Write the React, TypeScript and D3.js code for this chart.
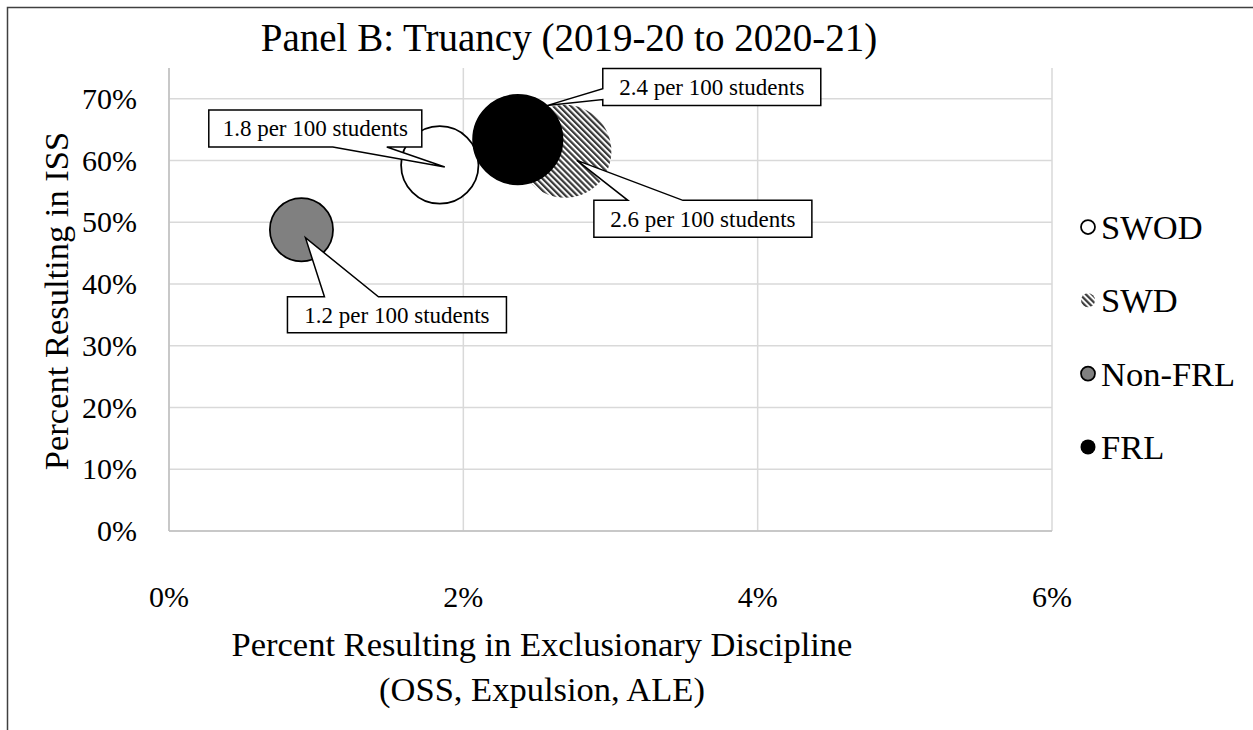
import React from "react";
import * as d3 from "d3";

// ---------- DATA ----------
const categories = ["SWOD", "SWD", "Non-FRL", "FRL"];
const pctExclusionary = [0.0184, 0.0269, 0.0090, 0.0237]; // x
const pctISS = [0.593, 0.615, 0.488, 0.634]; // y
const perHundred = [1.8, 2.6, 1.2, 2.4]; // bubble size
const calloutLabels = ["1.8 per 100 students", "2.6 per 100 students", "1.2 per 100 students", "2.4 per 100 students"];
const xTicks = [0, 0.02, 0.04, 0.06];
const yTicks = [0, 0.1, 0.2, 0.3, 0.4, 0.5, 0.6, 0.7];
const chartTitle = "Panel B: Truancy (2019-20 to 2020-21)";
const yTitle = "Percent Resulting in ISS";
const xTitleLines = ["Percent Resulting in Exclusionary Discipline", "(OSS, Expulsion, ALE)"];

// ---------- LAYOUT ----------
const W = 1253, H = 730;
const FONT = "'Liberation Serif', 'Times New Roman', serif";
const plot = { left: 169, right: 1052, top: 68, bottom: 531 };

type Side = "top" | "bottom" | "left";
// offsets (px) relative to bubble centre
const calloutLayout: Record<string, { dx: number; dy: number; w: number; h: number; side: Side; a: number; b: number; tdx: number; tdy: number }> = {
  "SWOD": { dx: -231, dy: -55, w: 213, h: 37, side: "bottom", a: 124, b: 178, tdx: 5, tdy: 2 },
  "SWD": { dx: 29, dy: 49, w: 218, h: 37, side: "top", a: 34, b: 89, tdx: 12, tdy: 9 },
  "Non-FRL": { dx: -14, dy: 67, w: 219, h: 36, side: "top", a: 37, b: 91, tdx: 4, tdy: 8 },
  "FRL": { dx: 85, dy: -71, w: 218, h: 37, side: "left", a: 20, b: 31, tdx: 29, tdy: -34 },
};

const fills: Record<string, string> = {
  "SWOD": "#ffffff",
  "SWD": "url(#hatch)",
  "Non-FRL": "#808080",
  "FRL": "#000000",
};
const strokes: Record<string, string> = {
  "SWOD": "#000",
  "SWD": "none",
  "Non-FRL": "#000",
  "FRL": "#000",
};

function calloutPath(x0: number, y0: number, w: number, h: number, side: Side, a: number, b: number, tx: number, ty: number) {
  if (side === "top") {
    return `M${x0},${y0}L${x0 + a},${y0}L${tx},${ty}L${x0 + b},${y0}L${x0 + w},${y0}L${x0 + w},${y0 + h}L${x0},${y0 + h}Z`;
  }
  if (side === "bottom") {
    return `M${x0},${y0}L${x0 + w},${y0}L${x0 + w},${y0 + h}L${x0 + b},${y0 + h}L${tx},${ty}L${x0 + a},${y0 + h}L${x0},${y0 + h}Z`;
  }
  return `M${x0},${y0}L${x0 + w},${y0}L${x0 + w},${y0 + h}L${x0},${y0 + h}L${x0},${y0 + b}L${tx},${ty}L${x0},${y0 + a}Z`;
}

export default function App() {
  const x = d3.scaleLinear().domain([0, 0.06]).range([plot.left, plot.right]);
  const y = d3.scaleLinear().domain([0, 0.75]).range([plot.bottom, plot.top]);
  const r = d3.scaleSqrt().domain([0, 2.6]).range([0, 46.5]);
  const pct = d3.format(".0%");

  const points = categories.map((c, i) => ({
    cat: c,
    cx: x(pctExclusionary[i]),
    cy: y(pctISS[i]),
    r: r(perHundred[i]),
    label: calloutLabels[i],
  }));

  const legendX = 1088;
  const legendY0 = 227;
  const legendStep = 73.3;

  return (
    <svg width={W} height={H} style={{ position: "absolute", left: 0, top: 0, background: "#fff" }} fontFamily={FONT}>
      <defs>
        <pattern id="hatch" patternUnits="userSpaceOnUse" width={4.2} height={4.2} patternTransform="rotate(-45)">
          <rect x={0} y={0} width={4.2} height={4.2} fill="#ffffff" />
          <rect x={0} y={0} width={2.2} height={4.2} fill="#3a3a3a" />
        </pattern>
      </defs>
      <rect x={0} y={0} width={W} height={H} fill="#fff" />
      {/* chart border */}
      <rect x={7.5} y={7.5} width={W + 20} height={H + 20} fill="none" stroke="#404040" strokeWidth={1.5} />

      {/* gridlines */}
      {yTicks.map((t) => (
        <line key={"gy" + t} x1={plot.left} x2={plot.right} y1={y(t)} y2={y(t)} stroke="#d9d9d9" strokeWidth={1.5} />
      ))}
      {xTicks.map((t) => (
        <line key={"gx" + t} x1={x(t)} x2={x(t)} y1={plot.top} y2={plot.bottom} stroke="#d9d9d9" strokeWidth={1.5} />
      ))}
      <line x1={plot.left} x2={plot.left} y1={plot.top} y2={plot.bottom} stroke="#bfbfbf" strokeWidth={1.5} />
      <line x1={plot.left} x2={plot.right} y1={plot.bottom} y2={plot.bottom} stroke="#bfbfbf" strokeWidth={1.5} />

      {/* tick labels */}
      {yTicks.map((t) => (
        <text key={"ly" + t} x={137} y={y(t) + 10} textAnchor="end" fontSize={30} fill="#000">{pct(t)}</text>
      ))}
      {xTicks.map((t) => (
        <text key={"lx" + t} x={x(t)} y={607} textAnchor="middle" fontSize={30} fill="#000">{pct(t)}</text>
      ))}

      {/* bubbles */}
      {points.map((p) => (
        <circle key={p.cat} cx={p.cx} cy={p.cy} r={p.r} fill={fills[p.cat]} stroke={strokes[p.cat]} strokeWidth={1.75} />
      ))}

      {/* callouts */}
      {points.map((p) => {
        const L = calloutLayout[p.cat];
        const x0 = p.cx + L.dx;
        const y0 = p.cy + L.dy;
        return (
          <g key={"c" + p.cat}>
            <path d={calloutPath(x0, y0, L.w, L.h, L.side, L.a, L.b, p.cx + L.tdx, p.cy + L.tdy)} fill="#fff" stroke="#000" strokeWidth={1.5} strokeLinejoin="miter" />
            <text x={x0 + L.w / 2} y={y0 + L.h / 2 + 8} textAnchor="middle" fontSize={23} fill="#000">{p.label}</text>
          </g>
        );
      })}

      {/* title */}
      <text x={569} y={51} textAnchor="middle" fontSize={39} fill="#000">{chartTitle}</text>

      {/* axis titles */}
      <text transform={`translate(68,301) rotate(-90)`} textAnchor="middle" fontSize={34.5} fill="#000">{yTitle}</text>
      {xTitleLines.map((l, i) => (
        <text key={"xt" + i} x={542} y={656 + i * 45} textAnchor="middle" fontSize={34.5} fill="#000">{l}</text>
      ))}

      {/* legend */}
      {categories.map((c, i) => {
        const ly = legendY0 + i * legendStep;
        return (
          <g key={"lg" + c}>
            <circle cx={legendX} cy={ly} r={c === "FRL" ? 7.5 : 7} fill={fills[c]} stroke={strokes[c]} strokeWidth={c === "FRL" ? 0 : 1.75} />
            <text x={legendX + 13} y={ly + 12} fontSize={34.5} fill="#000">{c}</text>
          </g>
        );
      })}
    </svg>
  );
}
